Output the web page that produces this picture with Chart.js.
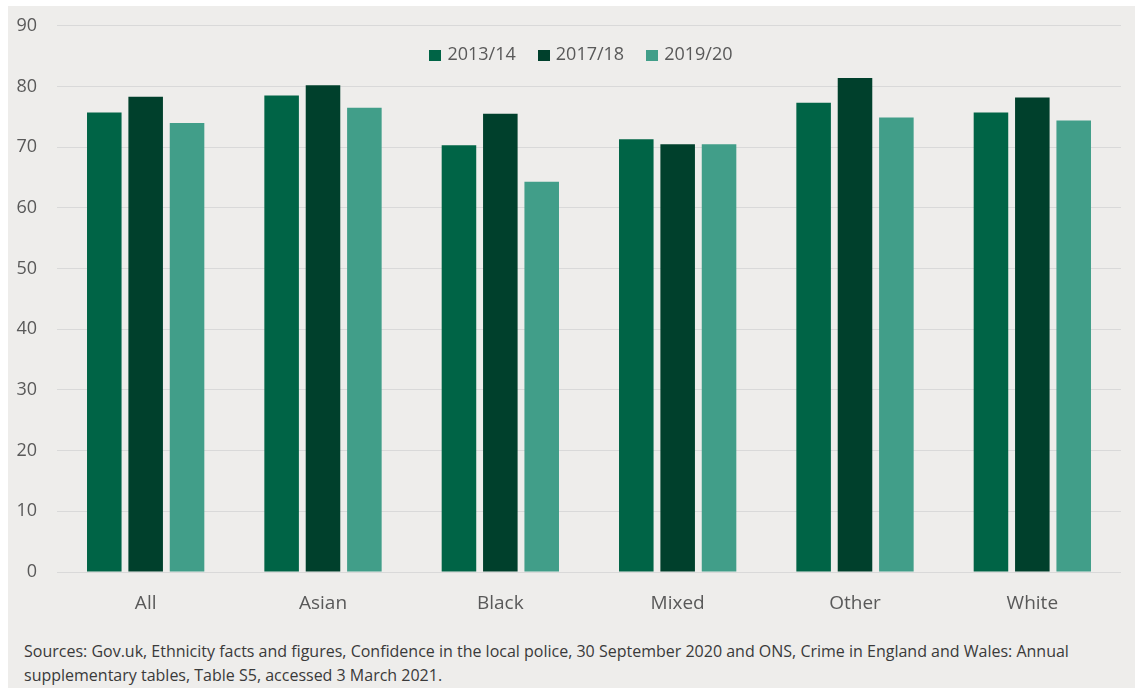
<!DOCTYPE html>
<html>
<head>
<meta charset="utf-8">
<script src="https://cdn.jsdelivr.net/npm/chart.js@4/dist/chart.umd.min.js"></script>
<style>
  html, body { margin: 0; padding: 0; background: #ffffff; }
  body { width: 1135px; height: 688px; position: relative; overflow: hidden; font-family: 'Open Sans', sans-serif; }
  #panel { position: absolute; left: 8px; top: 6px; right: 0; bottom: 0; background: #eeedeb; }
  #chart-wrap { position: absolute; left: 0; top: -5px; width: 1135px; height: 635px; }
  #legend { position: absolute; left: 0; top: 42px; width: 1162px; text-align: center; font-size: 18px; line-height: 22px; color: #595959; }
  #legend span.item { display: inline-block; margin: 0 11px; }
  #legend span.box { display: inline-block; width: 12px; height: 11px; margin-right: 6px; vertical-align: -1px; }
  #sources { position: absolute; left: 24px; top: 639px; width: 1060px; font-size: 16px; line-height: 24px; color: #3a3a3a; }
</style>
</head>
<body>
<div id="panel"></div>
<div id="chart-wrap"><canvas id="confidence-chart"></canvas></div>
<div id="legend"></div>
<div id="sources">Sources: Gov.uk, Ethnicity facts and figures, Confidence in the local police, 30 September 2020 and ONS, Crime in England and Wales: Annual supplementary tables, Table S5, accessed 3 March 2021.</div>
<script>
// Confidence in the local police by ethnic group (%)
const categories = ['All', 'Asian', 'Black', 'Mixed', 'Other', 'White'];
const seriesNames = ['2013/14', '2017/18', '2019/20'];
const values1314 = [75.7, 78.5, 70.3, 71.3, 77.3, 75.7];
const values1718 = [78.3, 80.2, 75.5, 70.5, 81.4, 78.2];
const values1920 = [74.0, 76.5, 64.3, 70.5, 74.9, 74.4];
const yTicks = [0, 10, 20, 30, 40, 50, 60, 70, 80, 90];

const colours = ['#006446', '#00402c', '#419e89'];
const textColour = '#595959';

function makeDataset(label, data, colour) {
    return {
        label: label,
        data: data,
        backgroundColor: colour,
        borderWidth: 0,
        categoryPercentage: 0.70,
        barPercentage: 0.835
    };
}

// legend sits inside the plot, between the 90 and 80 gridlines
function buildLegend(targetID) {
    const legend = document.getElementById(targetID);
    seriesNames.forEach((name, i) => {
        const item = document.createElement('span');
        item.className = 'item';
        const box = document.createElement('span');
        box.className = 'box';
        box.style.background = colours[i];
        item.appendChild(box);
        item.appendChild(document.createTextNode(name));
        legend.appendChild(item);
    });
}

const ctx = document.getElementById('confidence-chart').getContext('2d');
new Chart(ctx, {
    type: 'bar',
    data: {
        labels: categories,
        datasets: [
            makeDataset(seriesNames[0], values1314, colours[0]),
            makeDataset(seriesNames[1], values1718, colours[1]),
            makeDataset(seriesNames[2], values1920, colours[2])
        ]
    },
    options: {
        responsive: true,
        maintainAspectRatio: false,
        animation: false,
        layout: { padding: { top: 17, right: 14, bottom: 0, left: 0 } },
        plugins: {
            tooltip: { enabled: false },
            legend: { display: false }
        },
        scales: {
            x: {
                grid: { display: false, drawTicks: false },
                border: { display: false },
                ticks: {
                    color: textColour,
                    padding: 20,
                    font: { family: 'Open Sans', size: 19 }
                },
                afterFit: function (scale) { scale.height = 58; }
            },
            y: {
                min: 0,
                max: 90,
                afterBuildTicks: function (scale) {
                    scale.ticks = yTicks.map(v => ({ value: v }));
                },
                grid: { color: '#d9d9d9', lineWidth: 1, drawTicks: false },
                border: { display: false },
                ticks: {
                    color: textColour,
                    padding: 20,
                    font: { family: 'Open Sans', size: 18 }
                },
                afterFit: function (scale) { scale.width = 57; }
            }
        }
    }
});

buildLegend('legend');
</script>
</body>
</html>
